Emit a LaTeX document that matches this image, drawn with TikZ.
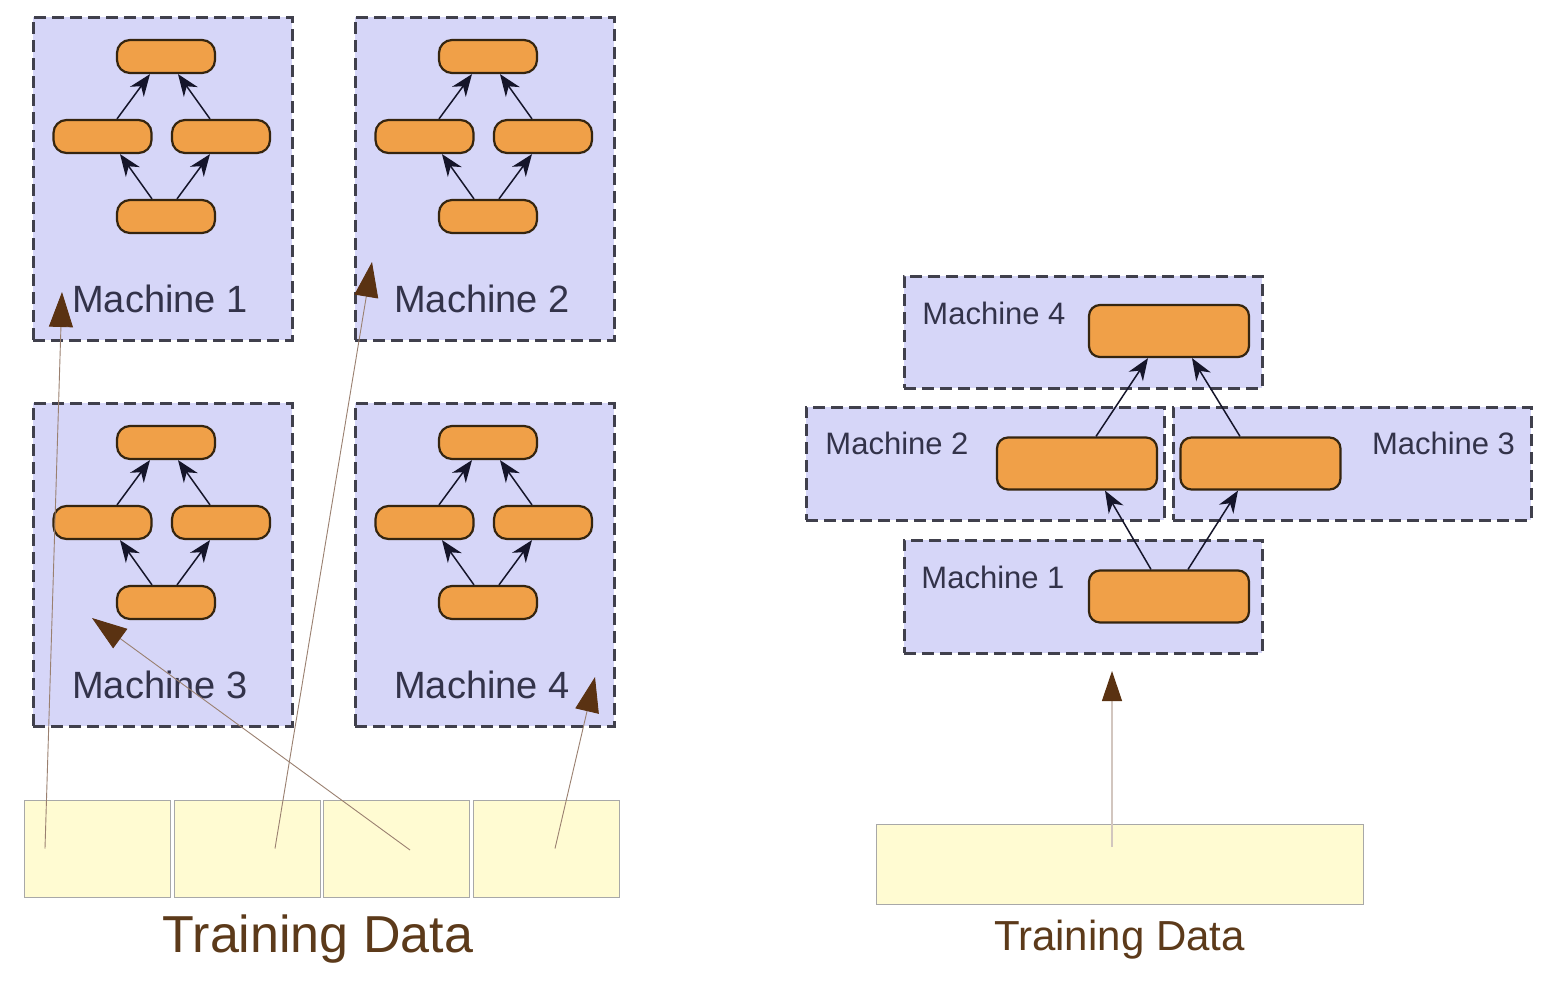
\documentclass[tikz,border=0pt]{standalone}
\usepackage{fontspec}
\setmainfont{Liberation Sans}
\usetikzlibrary{arrows.meta,calc}
\definecolor{lav}{HTML}{D6D6F8}
\definecolor{boxline}{HTML}{40404C}
\definecolor{orng}{HTML}{F0A048}
\definecolor{nodeline}{HTML}{35250F}
\definecolor{ylw}{HTML}{FFFBD2}
\definecolor{dataline}{HTML}{A8A8A8}
\definecolor{browntxt}{HTML}{5C3A1A}
\definecolor{brownline}{HTML}{9A8070}
\definecolor{brownhead}{HTML}{5A3212}
\definecolor{inkarrow}{HTML}{15152A}
\definecolor{labeltxt}{HTML}{33334A}
\tikzset{
  mbox/.style={draw=boxline, fill=lav, line width=3pt, dash pattern=on 12pt off 6pt, rectangle, inner sep=0pt},
  onode/.style={draw=nodeline, fill=orng, line width=2.2pt, rectangle, inner sep=0pt},
  smallnode/.style={onode, rounded corners=13pt, minimum width=98pt, minimum height=33pt},
  bignode/.style={onode, rounded corners=11pt, minimum width=160pt, minimum height=52pt},
  biglabel/.style={text=labeltxt, anchor=base, inner sep=0pt, font=\fontsize{38}{40}\selectfont},
  rlabel/.style={text=labeltxt, anchor=base, inner sep=0pt, font=\fontsize{31}{33}\selectfont},
  iarrow/.style={draw=inkarrow, line width=1.5pt, -{Stealth[length=22pt,width=17pt,inset=7pt]}},
  databox/.style={draw=dataline, fill=ylw, line width=1pt, rectangle, inner sep=0pt},
  barrow/.style={draw=brownline, line width=0.9pt, -{Triangle[length=35pt,width=24pt,color=brownhead]}},
  rbarrow/.style={draw=brownline!45, line width=1.2pt, -{Triangle[length=30pt,width=20pt,color=brownhead]}},
  trtxt/.style={text=browntxt, anchor=base, inner sep=0pt},
}
\newcommand\leftmachine[4]{%
\begin{scope}[shift={(#2,#3)}]
\node[mbox, minimum width=259pt, minimum height=323pt] (#1box) at (162.5,178.5) {};
\node[smallnode] (#1t) at (166,56.5) {};
\node[smallnode] (#1l) at (102.5,136.5) {};
\node[smallnode] (#1r) at (221,136.5) {};
\node[smallnode] (#1b) at (166,216.5) {};
\node[biglabel] (#1lab) at (160,312) {#4};
\draw[iarrow] ([xshift=-14pt]#1b.north) -- ([xshift=17.5pt]#1l.south);
\draw[iarrow] ([xshift=11pt]#1b.north) -- ([xshift=-11pt]#1r.south);
\draw[iarrow] ([xshift=14.5pt]#1l.north) -- ([xshift=-16pt]#1t.south);
\draw[iarrow] ([xshift=-11pt]#1r.north) -- ([xshift=12pt]#1t.south);
\end{scope}}
\begin{document}
\begin{tikzpicture}[x=1pt,y=-1pt]
\useasboundingbox[fill=white] (0,0) rectangle (1564,1004);
% ---------- left: data parallel ----------
\leftmachine{ma}{0}{0}{Machine 1}
\leftmachine{mb}{322}{0}{Machine 2}
\leftmachine{mc}{0}{386}{Machine 3}
\leftmachine{md}{322}{386}{Machine 4}
\node[databox, minimum width=146pt, minimum height=97pt] (d1) at (97.5,848.5) {};
\node[databox, minimum width=146pt, minimum height=97pt] (d2) at (247.5,848.5) {};
\node[databox, minimum width=146pt, minimum height=97pt] (d3) at (396,848.5) {};
\node[databox, minimum width=146pt, minimum height=97pt] (d4) at (546,848.5) {};
\node[trtxt, font=\fontsize{52}{54}\selectfont] (tdl) at (318,952) {Training Data};
\coordinate (tip1) at (62,292);
\coordinate (tip2) at (372,262);
\coordinate (tip3) at (92,618);
\coordinate (tip4) at (595,677);
\draw[barrow] ([xshift=-52.5pt]d1.center) -- (tip1);
\draw[barrow] ([xshift=27.5pt]d2.center) -- (tip2);
\draw[barrow] ([xshift=14pt,yshift=-1.5pt]d3.center) -- (tip3);
\draw[barrow] ([xshift=9pt]d4.center) -- (tip4);
% ---------- right: model parallel ----------
\node[mbox, minimum width=358pt, minimum height=112pt] (r4box) at (1083,332) {};
\node[mbox, minimum width=358pt, minimum height=113pt] (r2box) at (985,463.5) {};
\node[mbox, minimum width=358pt, minimum height=113pt] (r3box) at (1352,463.5) {};
\node[mbox, minimum width=358pt, minimum height=113pt] (r1box) at (1083,596.5) {};
\node[bignode] (n4) at (1169,331) {};
\node[bignode] (n2) at (1077,463.5) {};
\node[bignode] (n3) at (1260.5,463.5) {};
\node[bignode] (n1) at (1169,596.5) {};
\node[rlabel] (l4) at (994,324) {Machine 4};
\node[rlabel] (l2) at (897,454) {Machine 2};
\node[rlabel] (l3) at (1443.5,454) {Machine 3};
\node[rlabel] (l1) at (993,588) {Machine 1};
\draw[iarrow] ([xshift=-18pt]n1.north) -- ([xshift=28pt]n2.south);
\draw[iarrow] ([xshift=19pt]n1.north) -- ([xshift=-22.5pt]n3.south);
\draw[iarrow] ([xshift=19pt]n2.north) -- ([xshift=-21pt]n4.south);
\draw[iarrow] ([xshift=-20.5pt]n3.north) -- ([xshift=23pt]n4.south);
\node[databox, minimum width=487pt, minimum height=80pt] (dr) at (1119.5,864) {};
\node[trtxt, font=\fontsize{42}{44}\selectfont] (tdr) at (1119.5,950) {Training Data};
\coordinate (tipr) at (1112,671);
\draw[rbarrow] ([xshift=-7.5pt,yshift=17pt]dr.center) -- (tipr);
\end{tikzpicture}
\end{document}
